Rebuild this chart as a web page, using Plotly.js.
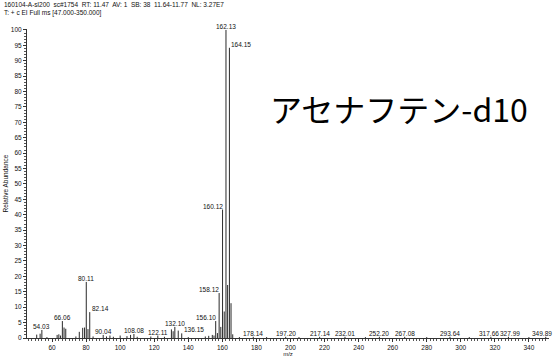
<!DOCTYPE html>
<html>
<head>
<meta charset="utf-8">
<script src="https://cdn.plot.ly/plotly-3.0.1.min.js"></script>
<style>
  html, body { margin: 0; padding: 0; background: #fff; }
  #chart { width: 554px; height: 363px; }
</style>
</head>
<body>
<div id="chart"></div>
<script>
// EI mass spectrum of acenaphthene-d10 (scan #1754, RT 11.47 min)
const mz = [
  51.0, 53.0, 54.03, 57.0, 63.0, 64.0, 65.0, 66.06, 67.05, 68.05,
  74.0, 76.0, 78.0, 79.1, 80.11, 81.1, 82.14, 84.1, 90.04, 92.0,
  94.0, 96.0, 100.0, 104.0, 106.1, 108.08, 110.0, 118.0, 122.11, 126.0,
  130.1, 131.1, 132.10, 134.1, 136.15, 140.0, 150.0, 152.0, 154.1, 155.1,
  156.10, 157.1, 158.12, 159.1, 160.12, 161.1, 162.13, 163.1, 164.15, 165.1,
  166.1, 170.0, 178.14, 186.0, 197.20, 205.0, 217.14, 232.01, 244.0, 252.20,
  267.08, 280.0, 293.64, 305.0, 317.66, 327.99, 340.0, 349.89
];
const abundance = [
  1.1, 1.4, 2.6, 0.3, 1.0, 1.2, 0.8, 5.5, 3.4, 3.0,
  0.5, 2.0, 3.3, 3.4, 18.2, 2.9, 8.4, 0.5, 1.0, 0.5,
  0.8, 0.4, 0.8, 0.6, 1.0, 1.3, 0.4, 0.5, 0.8, 0.4,
  2.8, 2.2, 3.6, 2.4, 1.5, 0.3, 0.5, 0.7, 1.0, 0.8,
  5.5, 1.6, 14.6, 3.6, 41.7, 8.6, 100.0, 17.2, 94.2, 11.3,
  1.2, 0.3, 0.4, 0.3, 0.4, 0.3, 0.4, 0.4, 0.3, 0.4,
  0.4, 0.3, 0.4, 0.3, 0.4, 0.4, 0.3, 0.4
];
// peaks annotated with their m/z value
const labeledPeaks = [
  "54.03", "66.06", "80.11", "82.14", "90.04", "108.08", "122.11", "132.10",
  "136.15", "156.10", "158.12", "160.12", "162.13", "164.15", "178.14", "197.20",
  "217.14", "232.01", "252.20", "267.08", "293.64", "317.66", "327.99", "349.89"
];
const xTickValues = [60, 80, 100, 120, 140, 160, 180, 200, 220, 240, 260, 280, 300, 320, 340];
const yTickValues = [0, 5, 10, 15, 20, 25, 30, 35, 40, 45, 50, 55, 60, 65, 70, 75, 80, 85, 90, 95, 100];

const headerLine1 = "160104-A-sl200  sc#1754  RT: 11.47  AV: 1  SB: 38  11.64-11.77  NL: 3.27E7";
const headerLine2 = "T: + c EI Full ms [47.000-350.000]";
const compoundName = "アセナフテン-d10";

// labels that sit beside their stick instead of centred above it
const sideLabel = {
  "82.14": "left", "136.15": "left", "164.15": "left",
  "156.10": "right", "158.12": "right", "160.12": "right"
};
// small horizontal nudges (px) for crowded labels
const labelNudge = { "317.66": -2, "327.99": 2, "349.89": -4 };

const sans = "Liberation Sans, Arial, sans-serif";
const textFont = { family: sans, size: 6.5, color: "#111" };

// stick spectrum: one vertical segment per peak, from the baseline to its abundance
const stickX = [], stickY = [];
mz.forEach(function (m, i) {
  stickX.push(m, m, null);
  stickY.push(0, abundance[i], null);
});

const annotations = labeledPeaks.map(function (lab) {
  const x = parseFloat(lab);
  const i = mz.indexOf(x);
  const side = sideLabel[lab];
  return {
    x: x, y: abundance[i], xref: "x", yref: "y",
    text: lab, showarrow: false,
    xanchor: side ? side : "center",
    yanchor: "bottom",
    xshift: side ? 1 : (labelNudge[lab] || 0),
    yshift: -1,
    borderpad: 0,
    font: textFont
  };
});

annotations.push(
  { xref: "paper", yref: "paper", x: -0.046, y: 1.080, xanchor: "left", yanchor: "middle",
    text: headerLine1, showarrow: false, borderpad: 0, font: textFont },
  { xref: "paper", yref: "paper", x: -0.046, y: 1.053, xanchor: "left", yanchor: "middle",
    text: headerLine2, showarrow: false, borderpad: 0, font: textFont },
  { xref: "paper", yref: "paper", x: 0.713, y: 0.745, xanchor: "center", yanchor: "middle",
    text: compoundName, showarrow: false,
    font: { family: "Noto Sans CJK JP, sans-serif", size: 32, color: "#000" } }
);

const trace = {
  type: "scatter",
  mode: "lines",
  x: stickX,
  y: stickY,
  connectgaps: false,
  line: { color: "#2a2a2a", width: 1 },
  hoverinfo: "x+y"
};

const layout = {
  width: 554,
  height: 363,
  margin: { l: 27, r: 5, t: 29, b: 25 },
  paper_bgcolor: "#fff",
  plot_bgcolor: "#fff",
  showlegend: false,
  font: textFont,
  xaxis: {
    range: [45.3, 351.8],
    tickvals: xTickValues,
    ticks: "outside",
    ticklen: 3,
    tickwidth: 1,
    tickcolor: "#333",
    showline: true,
    linecolor: "#333",
    linewidth: 1,
    showgrid: false,
    zeroline: false,
    tickfont: textFont,
    minor: { dtick: 2, tick0: 0, ticks: "outside", ticklen: 2, tickcolor: "#555", showgrid: false },
    title: { text: "m/z", font: { family: sans, size: 6, color: "#111" }, standoff: 1 },
    automargin: false
  },
  yaxis: {
    range: [0, 100.3],
    tickvals: yTickValues,
    ticks: "outside",
    ticklen: 3,
    tickwidth: 1,
    tickcolor: "#333",
    showline: true,
    linecolor: "#333",
    linewidth: 1,
    showgrid: false,
    zeroline: false,
    tickfont: textFont,
    minor: { dtick: 1, tick0: 0, ticks: "outside", ticklen: 2, tickcolor: "#555", showgrid: false },
    title: { text: "Relative Abundance", font: { family: sans, size: 6.5, color: "#111" }, standoff: 1 },
    automargin: false
  },
  annotations: annotations
};

Plotly.newPlot("chart", [trace], layout, { staticPlot: true, displayModeBar: false });
</script>
</body>
</html>
